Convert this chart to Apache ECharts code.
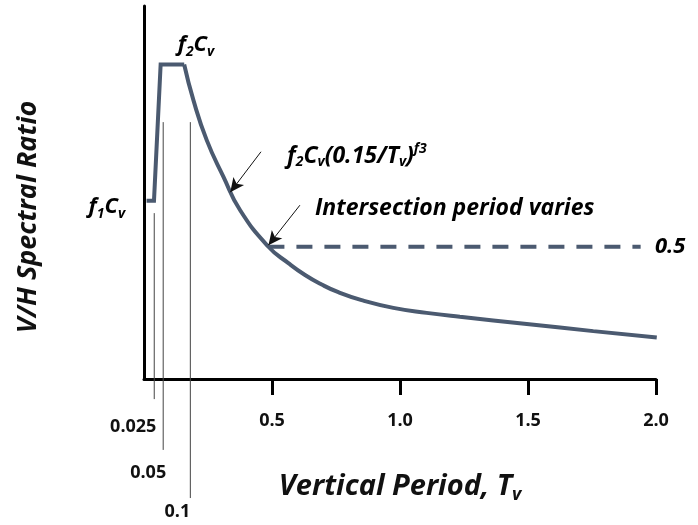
<!DOCTYPE html>
<html>
<head>
<meta charset="utf-8">
<script src="https://cdn.jsdelivr.net/npm/echarts@6/dist/echarts.min.js"></script>
<style>
  html, body { margin: 0; padding: 0; background: #fff; }
  #chart { width: 698px; height: 525px; }
</style>
</head>
<body>
<div id="chart"></div>
<script>
/* V/H spectral ratio schematic */
var stepX = [0.01, 0.039, 0.065, 0.157];
var stepY = [0.674, 0.674, 1.189, 1.189];
var decayX = [0.157, 0.193, 0.245, 0.31, 0.375, 0.486, 0.564, 0.629, 0.694, 0.759, 0.85, 0.974, 1.104, 1.234, 1.495, 1.755, 2.003];
var decayY = [1.189, 1.054, 0.903, 0.765, 0.639, 0.5, 0.438, 0.393, 0.357, 0.328, 0.298, 0.269, 0.25, 0.235, 0.208, 0.181, 0.157];
var plateauX = [0.486, 1.94];
var plateauY = [0.5, 0.5];
var xTicks = [0.5, 1.0, 1.5, 2.0];
var refX = [0.04, 0.075, 0.181];
var refTop = [0.627, 0.971, 0.971];
var refBottom = [-0.076, -0.268, -0.45];
var refLabels = ['0.025', '0.05', '0.1'];
var noteX = [0.203, -0.145, 0.559, 0.668, 1.996];
var noteY = [1.262, 0.65, 0.843, 0.646, 0.499];
var noteText = [
  '{i|f}{s|2}{i|C}{s|v}',
  '{i|f}{s|1}{i|C}{s|v}',
  '{k|f}{s|2}{k|C}{s|v}{k|(0.15/T}{s|v}{k|)}{p|f3}',
  '{m|Intersection period varies}',
  '{i|0.5}'
];
var noteAlign = ['center', 'center', 'left', 'left', 'left'];
var arrowFrom = [[0.457, 0.859], [0.609, 0.657]];
var arrowTo = [[0.337, 0.706], [0.486, 0.506]];

(function () {
  var curve = '#4b5a70';
  var ink = '#111';
  var font = 'Open Sans';
  var refOffset = [[-21, 28], [-15, 23], [-13, 14]];
  function bi(size, pad) {
    var o = { fontFamily: font, fontStyle: 'italic', fontWeight: 'bold', fontSize: size, color: ink };
    if (pad) o.padding = pad;
    return o;
  }
  var richNote = {
    i: bi(22),
    k: bi(23),
    m: bi(23),
    s: bi(14, [13, 0, 0, 0]),
    p: bi(14, [0, 0, 13, 0])
  };

  function pairs(xs, ys) { return xs.map(function (x, i) { return [x, ys[i]]; }); }

  var chart = echarts.init(document.getElementById('chart'), null, { renderer: 'canvas' });
  chart.setOption({
    animation: false,
    grid: { left: 144, right: 42, top: 6, bottom: 146 },
    xAxis: {
      type: 'value', min: 0, max: 2, interval: 0.5,
      name: '{a|Vertical Period, T}{b|v}', nameLocation: 'middle', nameGap: 91,
      nameTextStyle: { rich: { a: bi(29), b: bi(18, [16, 0, 0, 0]) } },
      axisLine: { lineStyle: { color: '#000', width: 3 } },
      axisTick: { customValues: xTicks, length: 16, lineStyle: { color: '#000', width: 3 } },
      axisLabel: { customValues: xTicks, margin: 33, color: ink, fontFamily: font, fontWeight: 'bold', fontSize: 18,
        formatter: function (v) { return v.toFixed(1); } },
      splitLine: { show: false }
    },
    yAxis: {
      type: 'value', min: 0, max: 1.41,
      axisLine: { show: true, lineStyle: { color: '#000', width: 3 } },
      axisTick: { show: false }, axisLabel: { show: false }, splitLine: { show: false }
    },
    graphic: [{
      type: 'text', x: 28, y: 217, rotation: Math.PI / 2,
      style: { text: 'V/H Spectral Ratio', align: 'center', verticalAlign: 'middle',
        font: 'italic bold 27px ' + font, fill: ink }
    }],
    series: [
      { type: 'line', data: pairs(stepX, stepY), symbol: 'none', lineStyle: { color: curve, width: 4, join: 'miter' } },
      { type: 'line', data: pairs(decayX, decayY), smooth: 0.5, symbol: 'none',
        lineStyle: { color: curve, width: 4 } },
      { type: 'line', data: pairs(plateauX, plateauY), symbol: 'none',
        lineStyle: { color: curve, width: 4, type: [16, 12] },
        markLine: {
          silent: true, symbol: ['none', 'arrow'], symbolSize: [10, 14],
          label: { show: false },
          lineStyle: { color: ink, width: 1, type: 'solid' },
          data: arrowFrom.map(function (f, i) { return [{ coord: f }, { coord: arrowTo[i] }]; })
        } },
      { type: 'custom', clip: false, silent: true,
        data: refX.map(function (x, i) { return [x, refTop[i], refBottom[i]]; }),
        encode: { x: 0, y: [1, 2] },
        renderItem: function (params, api) {
          var i = params.dataIndex;
          var top = api.coord([api.value(0), api.value(1)]);
          var bot = api.coord([api.value(0), api.value(2)]);
          return { type: 'group', children: [
            { type: 'line', shape: { x1: top[0], y1: top[1], x2: bot[0], y2: bot[1] },
              style: { stroke: '#444', lineWidth: 1 } },
            { type: 'text', x: bot[0] + refOffset[i][0], y: bot[1] + refOffset[i][1],
              style: { text: refLabels[i], align: 'center', verticalAlign: 'middle',
                font: 'bold 18px ' + font, fill: ink } }
          ] };
        } },
      { type: 'custom', clip: false, silent: true,
        data: pairs(noteX, noteY),
        renderItem: function (params, api) {
          var i = params.dataIndex;
          var p = api.coord([api.value(0), api.value(1)]);
          return { type: 'text', x: p[0], y: p[1],
            style: { text: noteText[i], rich: richNote, align: noteAlign[i], verticalAlign: 'middle' } };
        } }
    ]
  });
})();
</script>
</body>
</html>
